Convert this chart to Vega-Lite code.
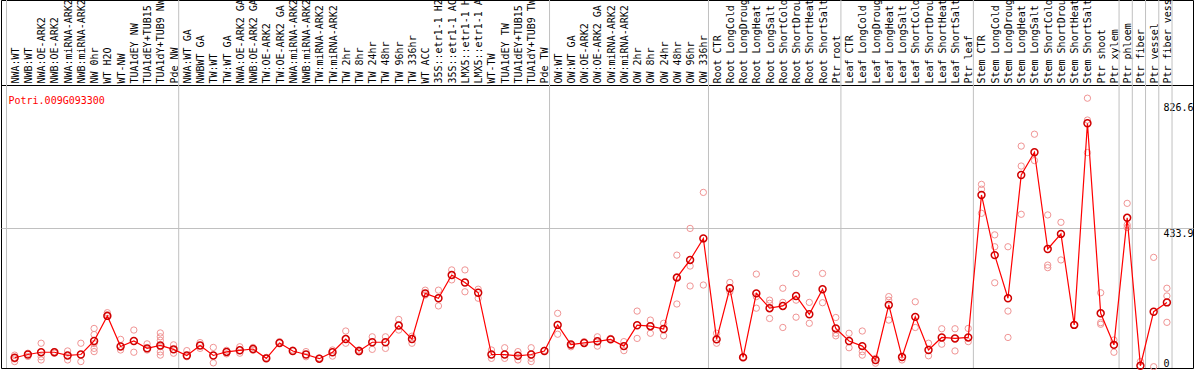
{
  "$schema": "https://vega.github.io/schema/vega-lite/v6.json",
  "width": 1192,
  "height": 368,
  "autosize": {"type": "none"},
  "padding": {"left": 1, "top": 0, "right": 1, "bottom": 2},
  "background": "white",
  "title": {"text": "Potri.009G093300", "orient": "bottom", "anchor": "start", "frame": "group", "offset": 0, "baseline": "alphabetic", "dx": 7.5, "dy": -268, "color": "#ff0000", "font": "DejaVu Sans Mono", "fontSize": 10, "fontWeight": "normal"},
  "datasets": {
    "means": [
      {"sample": "NWA:WT", "mean": 32, "start": true},
      {"sample": "NWB:WT", "mean": 42},
      {"sample": "NWA:OE-ARK2", "mean": 49},
      {"sample": "NWB:OE-ARK2", "mean": 49},
      {"sample": "NWA:miRNA-ARK2", "mean": 39},
      {"sample": "NWB:miRNA-ARK2", "mean": 42},
      {"sample": "NW 0hr", "mean": 84},
      {"sample": "WT H2O", "mean": 162},
      {"sample": "WT-NW", "mean": 67},
      {"sample": "TUA1dEY NW", "mean": 84},
      {"sample": "TUA1dEY+TUB15 NW", "mean": 61},
      {"sample": "TUA1dY+TUB9 NW", "mean": 70},
      {"sample": "Pde NW", "mean": 58},
      {"sample": "NWA:WT GA", "mean": 39, "start": true},
      {"sample": "NWBWT GA", "mean": 70},
      {"sample": "TW:WT", "mean": 39},
      {"sample": "TW:WT GA", "mean": 50},
      {"sample": "NWA:OE-ARK2 GA", "mean": 55},
      {"sample": "NWB:OE-ARK2 GA", "mean": 59},
      {"sample": "TW:OE-ARK2", "mean": 30},
      {"sample": "TW:OE-ARK2 GA", "mean": 78},
      {"sample": "NWA:miRNA-ARK2 GA", "mean": 53},
      {"sample": "NWB:miRNA-ARK2 GA", "mean": 42},
      {"sample": "TW:miRNA-ARK2", "mean": 29},
      {"sample": "TW:miRNA-ARK2 GA", "mean": 49},
      {"sample": "TW 2hr", "mean": 90},
      {"sample": "TW 8hr", "mean": 53},
      {"sample": "TW 24hr", "mean": 80},
      {"sample": "TW 48hr", "mean": 80},
      {"sample": "TW 96hr", "mean": 132},
      {"sample": "TW 336hr", "mean": 90},
      {"sample": "WT ACC", "mean": 232},
      {"sample": "35S::etr1-1 H2O", "mean": 217},
      {"sample": "35S::etr1-1 ACC", "mean": 289},
      {"sample": "LMX5::etr1-1 H2O", "mean": 266},
      {"sample": "LMX5::etr1-1 ACC", "mean": 234},
      {"sample": "WT-TW", "mean": 42},
      {"sample": "TUA1dEY TW", "mean": 42},
      {"sample": "TUA1dEY+TUB15 TW", "mean": 38},
      {"sample": "TUA1dY+TUB9 TW", "mean": 42},
      {"sample": "Pde TW", "mean": 53},
      {"sample": "OW:WT", "mean": 134, "start": true},
      {"sample": "OW:WT GA", "mean": 73},
      {"sample": "OW:OE-ARK2", "mean": 78},
      {"sample": "OW:OE-ARK2 GA", "mean": 83},
      {"sample": "OW:miRNA-ARK2", "mean": 89},
      {"sample": "OW:miRNA-ARK2 GA", "mean": 68},
      {"sample": "OW 2hr", "mean": 133},
      {"sample": "OW 8hr", "mean": 130},
      {"sample": "OW 24hr", "mean": 121},
      {"sample": "OW 48hr", "mean": 281},
      {"sample": "OW 96hr", "mean": 336},
      {"sample": "OW 336hr", "mean": 403},
      {"sample": "Root CTR", "mean": 89, "start": true},
      {"sample": "Root LongCold", "mean": 248},
      {"sample": "Root LongDrought", "mean": 33},
      {"sample": "Root LongHeat", "mean": 232},
      {"sample": "Root LongSalt", "mean": 186},
      {"sample": "Root ShortCold", "mean": 193},
      {"sample": "Root ShortDrought", "mean": 224},
      {"sample": "Root ShortHeat", "mean": 167},
      {"sample": "Root ShortSalt", "mean": 245},
      {"sample": "Ptr root", "mean": 123},
      {"sample": "Leaf CTR", "mean": 84, "start": true},
      {"sample": "Leaf LongCold", "mean": 68},
      {"sample": "Leaf LongDrought", "mean": 25},
      {"sample": "Leaf LongHeat", "mean": 196},
      {"sample": "Leaf LongSalt", "mean": 34},
      {"sample": "Leaf ShortCold", "mean": 159},
      {"sample": "Leaf ShortDrought", "mean": 56},
      {"sample": "Leaf ShortHeat", "mean": 95},
      {"sample": "Leaf ShortSalt", "mean": 92},
      {"sample": "Ptr leaf", "mean": 95},
      {"sample": "Stem CTR", "mean": 538, "start": true},
      {"sample": "Stem LongCold", "mean": 351},
      {"sample": "Stem LongDrought", "mean": 217},
      {"sample": "Stem LongHeat", "mean": 600},
      {"sample": "Stem LongSalt", "mean": 671},
      {"sample": "Stem ShortCold", "mean": 370},
      {"sample": "Stem ShortDrought", "mean": 417},
      {"sample": "Stem ShortHeat", "mean": 134},
      {"sample": "Stem ShortSalt", "mean": 761},
      {"sample": "Ptr shoot", "mean": 170},
      {"sample": "Ptr xylem", "mean": 72},
      {"sample": "Ptr phloem", "mean": 467, "start": true},
      {"sample": "Ptr fiber", "mean": 7, "start": true},
      {"sample": "Ptr vessel", "mean": 175, "start": true},
      {"sample": "Ptr fiber vessel", "mean": 204, "start": true}
    ],
    "reps": [
      {"sample": "NWA:WT", "value": 40}, {"sample": "NWA:WT", "value": 28}, {"sample": "NWA:WT", "value": 20},
      {"sample": "NWB:WT", "value": 46}, {"sample": "NWB:WT", "value": 36},
      {"sample": "NWA:OE-ARK2", "value": 77}, {"sample": "NWA:OE-ARK2", "value": 35}, {"sample": "NWA:OE-ARK2", "value": 25},
      {"sample": "NWB:OE-ARK2", "value": 51}, {"sample": "NWB:OE-ARK2", "value": 46},
      {"sample": "NWA:miRNA-ARK2", "value": 53}, {"sample": "NWA:miRNA-ARK2", "value": 25},
      {"sample": "NWB:miRNA-ARK2", "value": 77}, {"sample": "NWB:miRNA-ARK2", "value": 20},
      {"sample": "NW 0hr", "value": 123}, {"sample": "NW 0hr", "value": 104}, {"sample": "NW 0hr", "value": 76}, {"sample": "NW 0hr", "value": 61}, {"sample": "NW 0hr", "value": 51},
      {"sample": "WT H2O", "value": 172}, {"sample": "WT H2O", "value": 166},
      {"sample": "WT-NW", "value": 89}, {"sample": "WT-NW", "value": 56},
      {"sample": "TUA1dEY NW", "value": 118}, {"sample": "TUA1dEY NW", "value": 49},
      {"sample": "TUA1dEY+TUB15 NW", "value": 75}, {"sample": "TUA1dEY+TUB15 NW", "value": 56},
      {"sample": "TUA1dY+TUB9 NW", "value": 109}, {"sample": "TUA1dY+TUB9 NW", "value": 97}, {"sample": "TUA1dY+TUB9 NW", "value": 86}, {"sample": "TUA1dY+TUB9 NW", "value": 66}, {"sample": "TUA1dY+TUB9 NW", "value": 50}, {"sample": "TUA1dY+TUB9 NW", "value": 40},
      {"sample": "Pde NW", "value": 72}, {"sample": "Pde NW", "value": 46},
      {"sample": "NWA:WT GA", "value": 54}, {"sample": "NWA:WT GA", "value": 35},
      {"sample": "NWBWT GA", "value": 79}, {"sample": "NWBWT GA", "value": 61},
      {"sample": "TW:WT", "value": 64}, {"sample": "TW:WT", "value": 16},
      {"sample": "TW:WT GA", "value": 55}, {"sample": "TW:WT GA", "value": 44},
      {"sample": "NWA:OE-ARK2 GA", "value": 66}, {"sample": "NWA:OE-ARK2 GA", "value": 46},
      {"sample": "NWB:OE-ARK2 GA", "value": 64}, {"sample": "NWB:OE-ARK2 GA", "value": 55},
      {"sample": "TW:OE-ARK2", "value": 33},
      {"sample": "TW:OE-ARK2 GA", "value": 82},
      {"sample": "NWA:miRNA-ARK2 GA", "value": 56},
      {"sample": "NWB:miRNA-ARK2 GA", "value": 51}, {"sample": "NWB:miRNA-ARK2 GA", "value": 35},
      {"sample": "TW:miRNA-ARK2", "value": 31},
      {"sample": "TW:miRNA-ARK2 GA", "value": 56}, {"sample": "TW:miRNA-ARK2 GA", "value": 37},
      {"sample": "TW 2hr", "value": 115}, {"sample": "TW 2hr", "value": 77},
      {"sample": "TW 8hr", "value": 56}, {"sample": "TW 8hr", "value": 50},
      {"sample": "TW 24hr", "value": 97}, {"sample": "TW 24hr", "value": 58},
      {"sample": "TW 48hr", "value": 97}, {"sample": "TW 48hr", "value": 61},
      {"sample": "TW 96hr", "value": 151}, {"sample": "TW 96hr", "value": 118},
      {"sample": "TW 336hr", "value": 99}, {"sample": "TW 336hr", "value": 77},
      {"sample": "WT ACC", "value": 242}, {"sample": "WT ACC", "value": 227},
      {"sample": "35S::etr1-1 H2O", "value": 242}, {"sample": "35S::etr1-1 H2O", "value": 193},
      {"sample": "35S::etr1-1 ACC", "value": 305}, {"sample": "35S::etr1-1 ACC", "value": 274},
      {"sample": "LMX5::etr1-1 H2O", "value": 305}, {"sample": "LMX5::etr1-1 H2O", "value": 237},
      {"sample": "LMX5::etr1-1 ACC", "value": 245}, {"sample": "LMX5::etr1-1 ACC", "value": 217},
      {"sample": "WT-TW", "value": 56}, {"sample": "WT-TW", "value": 30},
      {"sample": "TUA1dEY TW", "value": 63}, {"sample": "TUA1dEY TW", "value": 30},
      {"sample": "TUA1dEY+TUB15 TW", "value": 51}, {"sample": "TUA1dEY+TUB15 TW", "value": 25},
      {"sample": "TUA1dY+TUB9 TW", "value": 63}, {"sample": "TUA1dY+TUB9 TW", "value": 30}, {"sample": "TUA1dY+TUB9 TW", "value": 20},
      {"sample": "Pde TW", "value": 55},
      {"sample": "OW:WT", "value": 170}, {"sample": "OW:WT", "value": 105},
      {"sample": "OW:WT GA", "value": 66}, {"sample": "OW:WT GA", "value": 70},
      {"sample": "OW:OE-ARK2", "value": 82},
      {"sample": "OW:OE-ARK2 GA", "value": 97}, {"sample": "OW:OE-ARK2 GA", "value": 68},
      {"sample": "OW:miRNA-ARK2", "value": 92},
      {"sample": "OW:miRNA-ARK2 GA", "value": 82}, {"sample": "OW:miRNA-ARK2 GA", "value": 54},
      {"sample": "OW 2hr", "value": 177}, {"sample": "OW 2hr", "value": 92},
      {"sample": "OW 8hr", "value": 149}, {"sample": "OW 8hr", "value": 108},
      {"sample": "OW 24hr", "value": 139}, {"sample": "OW 24hr", "value": 100},
      {"sample": "OW 48hr", "value": 351}, {"sample": "OW 48hr", "value": 284}, {"sample": "OW 48hr", "value": 199},
      {"sample": "OW 96hr", "value": 434}, {"sample": "OW 96hr", "value": 317}, {"sample": "OW 96hr", "value": 255},
      {"sample": "OW 336hr", "value": 546}, {"sample": "OW 336hr", "value": 258},
      {"sample": "Root CTR", "value": 108}, {"sample": "Root CTR", "value": 77},
      {"sample": "Root LongCold", "value": 266}, {"sample": "Root LongCold", "value": 237},
      {"sample": "Root LongDrought", "value": 35},
      {"sample": "Root LongHeat", "value": 292}, {"sample": "Root LongHeat", "value": 222}, {"sample": "Root LongHeat", "value": 186},
      {"sample": "Root LongSalt", "value": 211}, {"sample": "Root LongSalt", "value": 201}, {"sample": "Root LongSalt", "value": 154},
      {"sample": "Root ShortCold", "value": 248}, {"sample": "Root ShortCold", "value": 204}, {"sample": "Root ShortCold", "value": 126},
      {"sample": "Root ShortDrought", "value": 294}, {"sample": "Root ShortDrought", "value": 211}, {"sample": "Root ShortDrought", "value": 158},
      {"sample": "Root ShortHeat", "value": 204}, {"sample": "Root ShortHeat", "value": 139},
      {"sample": "Root ShortSalt", "value": 294}, {"sample": "Root ShortSalt", "value": 203},
      {"sample": "Ptr root", "value": 157}, {"sample": "Ptr root", "value": 108}, {"sample": "Ptr root", "value": 100},
      {"sample": "Leaf CTR", "value": 108}, {"sample": "Leaf CTR", "value": 63},
      {"sample": "Leaf LongCold", "value": 115}, {"sample": "Leaf LongCold", "value": 51}, {"sample": "Leaf LongCold", "value": 40},
      {"sample": "Leaf LongDrought", "value": 30}, {"sample": "Leaf LongDrought", "value": 15},
      {"sample": "Leaf LongHeat", "value": 222}, {"sample": "Leaf LongHeat", "value": 211}, {"sample": "Leaf LongHeat", "value": 149},
      {"sample": "Leaf LongSalt", "value": 25},
      {"sample": "Leaf ShortCold", "value": 206}, {"sample": "Leaf ShortCold", "value": 126},
      {"sample": "Leaf ShortDrought", "value": 77}, {"sample": "Leaf ShortDrought", "value": 38},
      {"sample": "Leaf ShortHeat", "value": 122}, {"sample": "Leaf ShortHeat", "value": 74},
      {"sample": "Leaf ShortSalt", "value": 122}, {"sample": "Leaf ShortSalt", "value": 53},
      {"sample": "Ptr leaf", "value": 123}, {"sample": "Ptr leaf", "value": 82},
      {"sample": "Stem CTR", "value": 571}, {"sample": "Stem CTR", "value": 556}, {"sample": "Stem CTR", "value": 481},
      {"sample": "Stem LongCold", "value": 414}, {"sample": "Stem LongCold", "value": 377}, {"sample": "Stem LongCold", "value": 265},
      {"sample": "Stem LongDrought", "value": 377}, {"sample": "Stem LongDrought", "value": 177}, {"sample": "Stem LongDrought", "value": 95},
      {"sample": "Stem LongHeat", "value": 690}, {"sample": "Stem LongHeat", "value": 628}, {"sample": "Stem LongHeat", "value": 478},
      {"sample": "Stem LongSalt", "value": 727}, {"sample": "Stem LongSalt", "value": 645},
      {"sample": "Stem ShortCold", "value": 476}, {"sample": "Stem ShortCold", "value": 320}, {"sample": "Stem ShortCold", "value": 312},
      {"sample": "Stem ShortDrought", "value": 453}, {"sample": "Stem ShortDrought", "value": 336},
      {"sample": "Stem ShortHeat", "value": 134},
      {"sample": "Stem ShortSalt", "value": 839}, {"sample": "Stem ShortSalt", "value": 771}, {"sample": "Stem ShortSalt", "value": 670},
      {"sample": "Ptr shoot", "value": 234}, {"sample": "Ptr shoot", "value": 141}, {"sample": "Ptr shoot", "value": 136},
      {"sample": "Ptr xylem", "value": 87}, {"sample": "Ptr xylem", "value": 49},
      {"sample": "Ptr phloem", "value": 512}, {"sample": "Ptr phloem", "value": 445}, {"sample": "Ptr phloem", "value": 437},
      {"sample": "Ptr fiber", "value": 20},
      {"sample": "Ptr vessel", "value": 344}, {"sample": "Ptr vessel", "value": 4},
      {"sample": "Ptr fiber vessel", "value": 248}, {"sample": "Ptr fiber vessel", "value": 224}, {"sample": "Ptr fiber vessel", "value": 142}
    ]
  },
  "layer": [
    {
      "data": {"name": "means"},
      "mark": {"type": "point", "shape": "circle", "filled": false, "stroke": "#d00000", "strokeWidth": 1.5, "size": 48, "opacity": 0},
      "encoding": {
        "x": {
          "field": "sample", "type": "nominal", "sort": null,
          "scale": {
            "domain": ["NWA:WT", "NWB:WT", "NWA:OE-ARK2", "NWB:OE-ARK2", "NWA:miRNA-ARK2", "NWB:miRNA-ARK2", "NW 0hr", "WT H2O", "WT-NW", "TUA1dEY NW", "TUA1dEY+TUB15 NW", "TUA1dY+TUB9 NW", "Pde NW", "NWA:WT GA", "NWBWT GA", "TW:WT", "TW:WT GA", "NWA:OE-ARK2 GA", "NWB:OE-ARK2 GA", "TW:OE-ARK2", "TW:OE-ARK2 GA", "NWA:miRNA-ARK2 GA", "NWB:miRNA-ARK2 GA", "TW:miRNA-ARK2", "TW:miRNA-ARK2 GA", "TW 2hr", "TW 8hr", "TW 24hr", "TW 48hr", "TW 96hr", "TW 336hr", "WT ACC", "35S::etr1-1 H2O", "35S::etr1-1 ACC", "LMX5::etr1-1 H2O", "LMX5::etr1-1 ACC", "WT-TW", "TUA1dEY TW", "TUA1dEY+TUB15 TW", "TUA1dY+TUB9 TW", "Pde TW", "OW:WT", "OW:WT GA", "OW:OE-ARK2", "OW:OE-ARK2 GA", "OW:miRNA-ARK2", "OW:miRNA-ARK2 GA", "OW 2hr", "OW 8hr", "OW 24hr", "OW 48hr", "OW 96hr", "OW 336hr", "Root CTR", "Root LongCold", "Root LongDrought", "Root LongHeat", "Root LongSalt", "Root ShortCold", "Root ShortDrought", "Root ShortHeat", "Root ShortSalt", "Ptr root", "Leaf CTR", "Leaf LongCold", "Leaf LongDrought", "Leaf LongHeat", "Leaf LongSalt", "Leaf ShortCold", "Leaf ShortDrought", "Leaf ShortHeat", "Leaf ShortSalt", "Ptr leaf", "Stem CTR", "Stem LongCold", "Stem LongDrought", "Stem LongHeat", "Stem LongSalt", "Stem ShortCold", "Stem ShortDrought", "Stem ShortHeat", "Stem ShortSalt", "Ptr shoot", "Ptr xylem", "Ptr phloem", "Ptr fiber", "Ptr vessel", "Ptr fiber vessel"],
            "paddingInner": 0, "paddingOuter": 1.84615, "align": 0.20833
          },
          "axis": {
            "orient": "top", "offset": -85, "title": null,
            "domain": true, "domainColor": "#000000", "domainWidth": 1,
            "ticks": false, "tickSize": 0, "grid": false,
            "labelAngle": -90, "labelAlign": "left", "labelBaseline": "middle",
            "labelPadding": 2, "labelOffset": 2.5, "labelOverlap": false, "labelLimit": 300,
            "labelFont": "DejaVu Sans Mono", "labelFontSize": 10, "labelColor": "#000000"
          }
        },
        "y": {
          "field": "mean", "type": "quantitative",
          "scale": {"domain": [0, 1144.3], "nice": false, "zero": false},
          "axis": {
            "orient": "right", "offset": -30, "title": null,
            "values": [0, 433.9, 826.6], "format": ".1~f",
            "domain": false, "ticks": false, "tickSize": 0, "labelPadding": 0,
            "grid": true, "gridColor": "#c0c0c0", "gridWidth": 1,
            "gridOpacity": {"condition": {"test": "datum.value == 433.9", "value": 1}, "value": 0},
            "labelBaseline": {"condition": {"test": "datum.value == 0", "value": "bottom"}, "value": "top"},
            "labelAlign": "left", "labelFlush": false, "labelOverlap": false,
            "labelFont": "DejaVu Sans Mono", "labelFontSize": 10, "labelColor": "#000000"
          }
        }
      }
    },
    {
      "data": {"name": "means"},
      "transform": [{"filter": "datum.start"}],
      "mark": {"type": "rule", "color": "#c0c0c0", "strokeWidth": 1},
      "encoding": {
        "x": {"field": "sample", "type": "nominal", "sort": null, "bandPosition": 0}
      }
    },
    {
      "data": {"name": "means"},
      "transform": [{"filter": "datum.sample == 'Ptr fiber vessel'"}],
      "mark": {"type": "rule", "color": "#c0c0c0", "strokeWidth": 1},
      "encoding": {
        "x": {"field": "sample", "type": "nominal", "sort": null, "bandPosition": 1}
      }
    },
    {
      "data": {"name": "reps"},
      "mark": {"type": "point", "shape": "circle", "filled": false, "stroke": "#f09494", "strokeWidth": 1, "size": 40, "opacity": 1, "xOffset": 1.5},
      "encoding": {
        "x": {"field": "sample", "type": "nominal", "sort": null},
        "y": {"field": "value", "type": "quantitative", "scale": {"domain": [0, 1144.3], "nice": false, "zero": false}}
      }
    },
    {
      "data": {"name": "means"},
      "mark": {"type": "line", "color": "#ff0000", "strokeWidth": 1.2, "order": null, "xOffset": 1.5},
      "encoding": {
        "x": {"field": "sample", "type": "nominal", "sort": null},
        "y": {"field": "mean", "type": "quantitative", "scale": {"domain": [0, 1144.3], "nice": false, "zero": false}}
      }
    },
    {
      "data": {"name": "means"},
      "mark": {"type": "point", "shape": "circle", "filled": false, "stroke": "#d00000", "strokeWidth": 1.5, "size": 48, "opacity": 1, "xOffset": 1.5},
      "encoding": {
        "x": {"field": "sample", "type": "nominal", "sort": null},
        "y": {"field": "mean", "type": "quantitative", "scale": {"domain": [0, 1144.3], "nice": false, "zero": false}}
      }
    }
  ],
  "config": {"view": {"stroke": "#000000", "strokeWidth": 1}}
}
